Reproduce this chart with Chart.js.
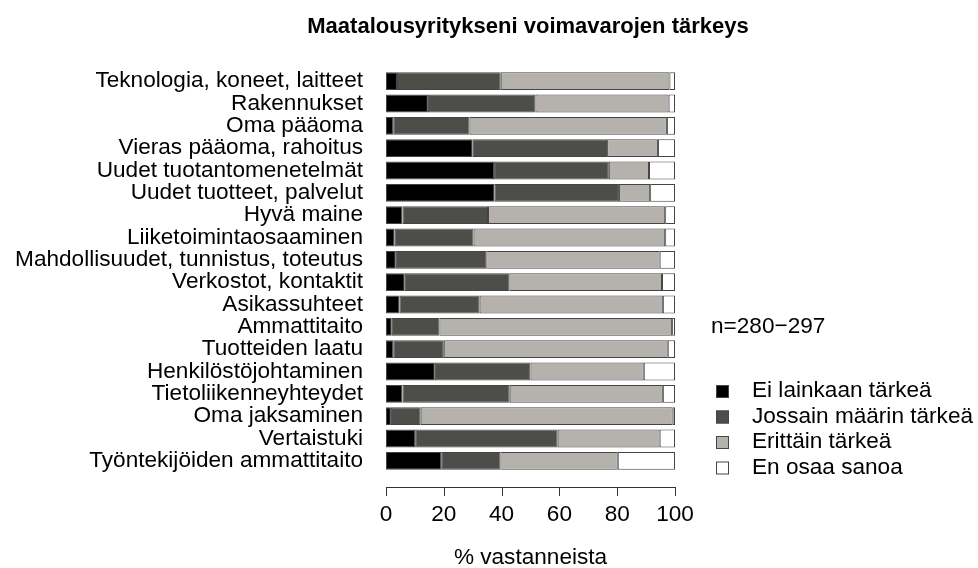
<!DOCTYPE html>
<html>
<head>
<meta charset="utf-8">
<script src="https://cdn.jsdelivr.net/npm/chart.js@4"></script>
<style>
  html, body { margin: 0; padding: 0; background: #fff; }
  canvas { display: block; }
</style>
</head>
<body>
<canvas id="chart" width="978" height="568"></canvas>
<script>
var categories = [
    'Teknologia, koneet, laitteet',
    'Rakennukset',
    'Oma pääoma',
    'Vieras pääoma, rahoitus',
    'Uudet tuotantomenetelmät',
    'Uudet tuotteet, palvelut',
    'Hyvä maine',
    'Liiketoimintaosaaminen',
    'Mahdollisuudet, tunnistus, toteutus',
    'Verkostot, kontaktit',
    'Asikassuhteet',
    'Ammattitaito',
    'Tuotteiden laatu',
    'Henkilöstöjohtaminen',
    'Tietoliikenneyhteydet',
    'Oma jaksaminen',
    'Vertaistuki',
    'Työntekijöiden ammattitaito'
];

var eiLainkaan = [3.8, 14.5, 2.5, 30.0, 37.4, 37.6, 5.7, 3.0, 3.4, 6.5, 4.7, 2.0, 2.5, 16.9, 5.7, 1.7, 10.1, 19.1];
var jossainMaarin = [35.9, 37.2, 26.4, 46.5, 39.7, 43.0, 29.6, 27.3, 31.3, 36.2, 27.7, 16.5, 17.5, 33.1, 37.1, 10.3, 49.3, 20.5];
var erittain = [58.4, 46.1, 68.3, 17.6, 13.9, 10.8, 61.3, 66.3, 60.0, 52.8, 63.4, 80.5, 77.5, 39.2, 53.0, 87.2, 35.3, 40.6];
var enOsaa = [1.9, 2.2, 2.8, 5.9, 9.0, 8.6, 3.4, 3.4, 5.3, 4.5, 4.2, 1.0, 2.5, 10.8, 4.2, 0.8, 5.3, 19.8];

var xTicks = [0, 20, 40, 60, 80, 100];

var FONT = '"Liberation Sans", Arial, sans-serif';
var SIZE = 22.6;
var EDGE = '#444444';

function series(label, values, color) {
    return {
        label: label,
        data: values,
        backgroundColor: color,
        borderColor: EDGE,
        borderWidth: 1,
        borderSkipped: false,
        barPercentage: 0.8,
        categoryPercentage: 1.0
    };
}

// R-style extras: title, detached x axis line, sample note and legend
var extras = {
    id: 'extras',
    afterDraw: function(chart) {
        var ctx = chart.ctx;
        var x = chart.scales.x;
        var axisY = 487;

        ctx.save();
        ctx.fillStyle = '#000';
        ctx.textBaseline = 'middle';

        ctx.font = 'bold 22px ' + FONT;
        ctx.textAlign = 'center';
        ctx.fillText('Maatalousyritykseni voimavarojen tärkeys', 528, 27);

        ctx.strokeStyle = '#333';
        ctx.lineWidth = 1;
        ctx.beginPath();
        ctx.moveTo(x.getPixelForValue(xTicks[0]), axisY + 0.5);
        ctx.lineTo(x.getPixelForValue(xTicks[xTicks.length - 1]), axisY + 0.5);
        xTicks.forEach(function(t) {
            var px = Math.round(x.getPixelForValue(t)) + 0.5;
            ctx.moveTo(px, axisY);
            ctx.lineTo(px, axisY + 9);
        });
        ctx.stroke();

        ctx.font = SIZE + 'px ' + FONT;
        ctx.textAlign = 'left';
        ctx.fillText('n=280\u2212297', 711, 327);

        chart.data.datasets.forEach(function(ds, i) {
            var y = 391 + i * 25.5;
            ctx.fillStyle = ds.backgroundColor;
            ctx.fillRect(716, y - 6, 13, 13);
            ctx.strokeStyle = EDGE;
            ctx.strokeRect(716.5, y - 5.5, 12, 12);
            ctx.fillStyle = '#000';
            ctx.fillText(ds.label, 752, y);
        });
        ctx.restore();
    }
};

new Chart(document.getElementById('chart'), {
    type: 'bar',
    data: {
        labels: categories,
        datasets: [
            series('Ei lainkaan tärkeä', eiLainkaan, '#000000'),
            series('Jossain määrin tärkeä', jossainMaarin, '#4d4d4a'),
            series('Erittäin tärkeä', erittain, '#b5b2ae'),
            series('En osaa sanoa', enOsaa, '#ffffff')
        ]
    },
    options: {
        indexAxis: 'y',
        responsive: false,
        animation: false,
        layout: { padding: { left: 0, right: 303, top: 70, bottom: 0 } },
        plugins: {
            legend: { display: false },
            title: { display: false },
            tooltip: { enabled: false }
        },
        scales: {
            x: {
                stacked: true,
                min: 0,
                max: 100,
                afterFit: function(scale) { scale.height = 96; },
                afterBuildTicks: function(scale) {
                    scale.ticks = xTicks.map(function(v) { return { value: v }; });
                },
                grid: { display: false },
                border: { display: false },
                ticks: {
                    color: '#000',
                    padding: 21,
                    maxRotation: 0,
                    font: { family: FONT, size: SIZE }
                },
                title: {
                    display: true,
                    text: '% vastanneista',
                    color: '#000',
                    padding: { top: 0, bottom: -3 },
                    font: { family: FONT, size: SIZE }
                }
            },
            y: {
                stacked: true,
                afterFit: function(scale) { scale.width = 386; },
                grid: { display: false },
                border: { display: false },
                ticks: {
                    color: '#000',
                    padding: 15,
                    autoSkip: false,
                    font: { family: FONT, size: SIZE }
                }
            }
        }
    },
    plugins: [extras]
});
</script>
</body>
</html>
